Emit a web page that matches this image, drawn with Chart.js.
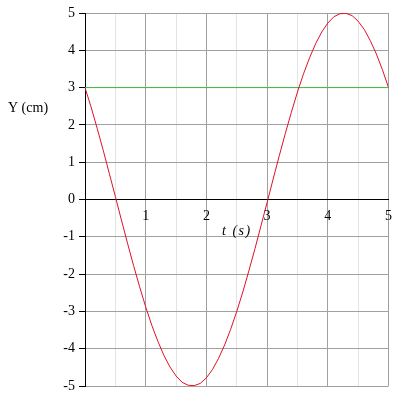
<!DOCTYPE html>
<html>
<head>
<meta charset="utf-8">
<script src="https://cdn.jsdelivr.net/npm/chart.js@4/dist/chart.umd.min.js"></script>
<style>
html,body{margin:0;padding:0;background:#fff;}
#wrap{width:400px;height:400px;position:relative;}
</style>
</head>
<body>
<div id="wrap"><canvas id="c" width="400" height="400"></canvas></div>
<script>
// time values (s)
const tValues = [0,0.1,0.2,0.3,0.4,0.5,0.6,0.7,0.8,0.9,1,1.1,1.2,1.3,1.4,1.5,1.6,1.7,1.8,1.9,2,2.1,2.2,2.3,2.4,2.5,2.6,2.7,2.8,2.9,3,3.1,3.2,3.3,3.4,3.5,3.6,3.7,3.8,3.9,4,4.1,4.2,4.3,4.4,4.5,4.6,4.7,4.8,4.9,5];
// displacement Y (cm)
const yValues = [3.00,2.48,1.91,1.32,0.70,0.08,-0.55,-1.17,-1.77,-2.34,-2.88,-3.37,-3.80,-4.18,-4.49,-4.73,-4.90,-4.98,-4.99,-4.93,-4.78,-4.56,-4.26,-3.90,-3.48,-3.00,-2.48,-1.91,-1.32,-0.70,-0.08,0.55,1.17,1.77,2.34,2.88,3.37,3.80,4.18,4.49,4.73,4.90,4.98,4.99,4.93,4.78,4.56,4.26,3.90,3.48,3.00];
// horizontal reference line
const refX = [0,5];
const refY = [3,3];
const xTickLabels = ['1','2','3','4','5'];
const yRange = [-5,5];
const xRange = [0,5];

const curve = tValues.map((t,i)=>({x:t,y:yValues[i]}));
const ref = refX.map((t,i)=>({x:t,y:refY[i]}));
const serif = "'Liberation Serif','DejaVu Serif',serif";

const titles = {
  id:'titles',
  afterDraw(chart){
    const ctx = chart.ctx;
    ctx.save();
    ctx.fillStyle = '#000';
    ctx.textBaseline = 'middle';
    ctx.textAlign = 'left';
    ctx.font = "14px " + serif;
    ctx.fillText('Y (cm)', 8, 108);
    ctx.font = "italic 14px " + serif;
    try { ctx.letterSpacing = '1.5px'; } catch(e) {}
    ctx.fillText('t (s)', 222, 231);
    ctx.restore();
  }
};

new Chart(document.getElementById('c'), {
  type:'scatter',
  data:{datasets:[
    {data:ref, showLine:true, borderColor:'#44bb44', borderWidth:1, pointRadius:0, order:2},
    {data:curve, showLine:true, borderColor:'#e0102a', borderWidth:1, pointRadius:0, tension:0, order:1}
  ]},
  options:{
    responsive:false, animation:false, devicePixelRatio:1,
    layout:{padding:{left:0,top:13,right:11,bottom:14}},
    plugins:{legend:{display:false},tooltip:{enabled:false}},
    scales:{
      x:{
        type:'linear', min:xRange[0], max:xRange[1],
        position:{y:0},
        afterFit(s){ s.height = 0; },
        ticks:{stepSize:0.5, autoSkip:false, maxRotation:0, padding:8, color:'#000',
          font:{family:serif,size:14},
          callback:(v)=>{ const s=String(v); return xTickLabels.includes(s)?s:''; }},
        grid:{drawTicks:false, color:(c)=> (c.tick && Math.abs(c.tick.value%1)<1e-9)?'#a0a0a0':'#e4e4e4', lineWidth:1},
        border:{display:true,color:'#000',width:1}
      },
      y:{
        type:'linear', min:yRange[0], max:yRange[1],
        position:'left',
        afterFit(s){ s.width = 85; },
        ticks:{stepSize:1, padding:4, color:'#000', font:{family:serif,size:14}},
        grid:{color:'#a0a0a0', tickColor:'#000', tickLength:6, lineWidth:1},
        border:{display:true,color:'#000',width:1}
      }
    }
  },
  plugins:[titles]
});
</script>
</body>
</html>
